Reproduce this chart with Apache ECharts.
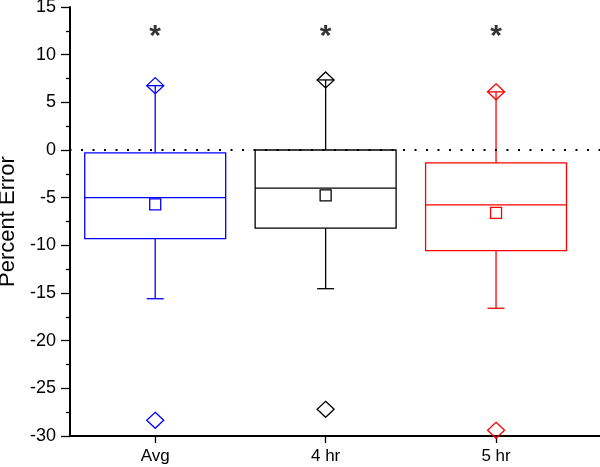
<!DOCTYPE html>
<html><head><meta charset="utf-8">
<script src="https://cdn.jsdelivr.net/npm/echarts@6/dist/echarts.min.js"></script>
<style>html,body{margin:0;padding:0;background:#fff}#c{width:600px;height:467px}</style>
</head><body><div id="c"></div>
<script>
const categories = ['Avg', '4 hr', '5 hr'];
const colors = ['#0000ff', '#000000', '#ff0000'];
const q1 = [-9.3, -8.2, -10.55];
const median = [-5.0, -4.0, -5.75];
const q3 = [-0.3, 0.0, -1.35];
const mean = [-5.7, -4.75, -6.6];
const whiskerLow = [-15.6, -14.55, -16.6];
const whiskerHigh = [6.75, 7.35, 6.1];
const minVals = [-28.35, -27.2, -29.4];
const maxVals = [6.75, 7.35, 6.1];
const starY = [12.2, 12.2, 12.2];

const boxData = categories.map((c, i) => [i + 1, q1[i], median[i], q3[i], mean[i], whiskerLow[i], whiskerHigh[i], minVals[i], maxVals[i], i]);

function renderBox(params, api) {
  const x = api.value(0);
  const col = colors[api.value(9)];
  const unit = api.size([1, 0])[0];
  const hw = unit * 0.4135;
  const cw = 8.5;
  const p = k => api.coord([x, api.value(k)]);
  const pq1 = p(1), pmed = p(2), pq3 = p(3), pmean = p(4), pwl = p(5), pwh = p(6), pmin = p(7), pmax = p(8);
  const cx = pq1[0];
  const ls = {stroke: col, lineWidth: 1.3, fill: null};
  const line = (x1, y1, x2, y2) => ({type: 'line', shape: {x1, y1, x2, y2}, style: ls});
  const diamond = (pt) => ({type: 'polygon', shape: {points: [[pt[0], pt[1] - 8], [pt[0] + 8.5, pt[1]], [pt[0], pt[1] + 8], [pt[0] - 8.5, pt[1]]]}, style: ls});
  return {type: 'group', children: [
    {type: 'rect', shape: {x: cx - hw, y: pq3[1], width: 2 * hw, height: pq1[1] - pq3[1]}, style: ls},
    line(cx - hw, pmed[1], cx + hw, pmed[1]),
    line(cx, pq3[1], cx, pwh[1]),
    line(cx, pq1[1], cx, pwl[1]),
    line(cx - cw, pwh[1], cx + cw, pwh[1]),
    line(cx - cw, pwl[1], cx + cw, pwl[1]),
    {type: 'rect', shape: {x: cx - 5.5, y: pmean[1] - 5.5, width: 11, height: 11}, style: ls},
    diamond(pmax),
    diamond(pmin)
  ]};
}

const font = 'Liberation Sans, Arial, sans-serif';
const chart = echarts.init(document.getElementById('c'));
chart.setOption({
  animation: false,
  grid: {left: 70, right: 0, top: 7, bottom: 31, containLabel: false, outerBoundsMode: 'none'},
  xAxis: {
    type: 'value', min: 0.5, max: 3.61,
    splitLine: {show: false},
    axisLine: {show: true, onZero: false, lineStyle: {color: '#000', width: 2}},
    axisTick: {show: true, customValues: [1, 2, 3], length: 7, lineStyle: {color: '#000', width: 1.3}},
    axisLabel: {show: true, customValues: [1, 2, 3], formatter: v => categories[Math.round(v) - 1] || '', margin: 12, fontSize: 17, color: '#000', fontFamily: font}
  },
  yAxis: {
    type: 'value', min: -30, max: 15, interval: 5,
    name: 'Percent Error', nameLocation: 'middle', nameGap: 47, nameRotate: 90,
    nameTextStyle: {fontSize: 22, color: '#000', fontFamily: font},
    splitLine: {show: false},
    axisLine: {show: true, onZero: false, lineStyle: {color: '#000', width: 2}},
    axisTick: {show: true, length: 9, lineStyle: {color: '#000', width: 1.3}},
    minorTick: {show: true, splitNumber: 2, length: 4, lineStyle: {color: '#000', width: 1.3}},
    axisLabel: {margin: 14, fontSize: 18, color: '#000', fontFamily: font}
  },
  series: [
    {
      type: 'custom', renderItem: renderBox, data: boxData, z: 3,
      markLine: {
        silent: true, symbol: 'none', label: {show: false},
        lineStyle: {color: '#000', width: 2.2, type: [2, 9.5], dashOffset: -11, cap: 'butt'},
        data: [{yAxis: 0}]
      }
    },
    {
      type: 'scatter', symbolSize: 0, z: 4,
      data: categories.map((c, i) => [i + 1, starY[i]]),
      label: {show: true, position: 'inside', formatter: '*', fontSize: 30, fontWeight: 'bold', color: '#000', offset: [0, 3], fontFamily: font}
    }
  ]
});
</script></body></html>
